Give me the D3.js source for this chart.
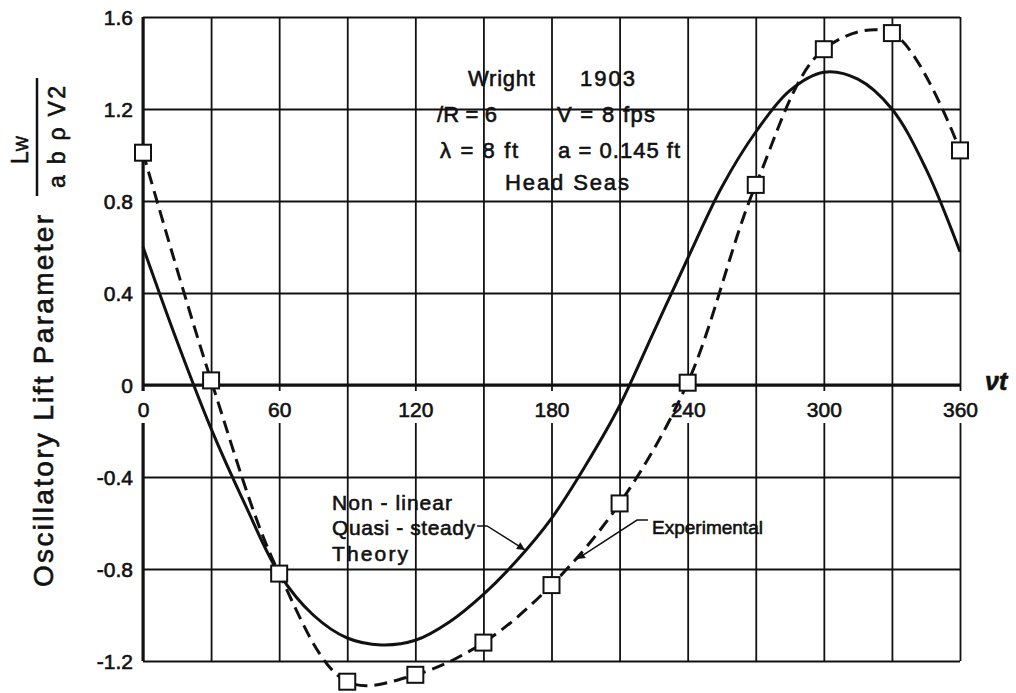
<!DOCTYPE html>
<html>
<head>
<meta charset="utf-8">
<script src="https://cdn.jsdelivr.net/npm/d3@7"></script>
<style>
  body { margin: 0; background: #fff; }
  svg { font-family: "Liberation Sans", Arial, sans-serif; }
  svg text { stroke: #111; stroke-width: 0.6px; }
</style>
</head>
<body>
<svg id="chart"></svg>
<script>
// Wright 1903 - oscillatory lift parameter vs phase angle
const xGridTicks = [0, 30, 60, 90, 120, 150, 180, 210, 240, 270, 300, 330, 360];
const xLabelTicks = [0, 60, 120, 180, 240, 300, 360];
const yTicks = [1.6, 1.2, 0.8, 0.4, 0, -0.4, -0.8, -1.2];

// experimental points (squares, dashed curve)
const expAngle = [0, 30, 60, 90, 120, 150, 180, 210, 240, 270, 300, 330, 360];
const expLift = [1.01, 0.02, -0.82, -1.29, -1.26, -1.12, -0.87, -0.515, 0.01, 0.87, 1.46, 1.53, 1.02];

// non-linear quasi-steady theory (solid curve)
const theoryAngle = [0, 15, 30, 45, 60, 75, 90, 105, 120, 135, 150, 165, 180, 195, 210, 225, 240, 255, 270, 285, 300, 315, 330, 345, 360];
const theoryLift = [0.60, 0.19, -0.19, -0.52, -0.82, -1.00, -1.10, -1.13, -1.11, -1.03, -0.91, -0.76, -0.58, -0.35, -0.09, 0.23, 0.55, 0.86, 1.10, 1.28, 1.36, 1.33, 1.20, 0.94, 0.58];

const W = 1016, H = 693;
const svg = d3.select("#chart").attr("width", W).attr("height", H);

const x = d3.scaleLinear().domain([0, 360]).range([143, 960]);
const y = d3.scaleLinear().domain([-1.2, 1.6]).range([661, 17]);

const ink = "#111";

// grid: horizontal lines with y labels
const yAxis = svg.append("g")
    .attr("transform", `translate(${x(0)},0)`)
    .call(d3.axisLeft(y)
        .tickValues(yTicks)
        .tickSize(-(x(360) - x(0)))
        .tickPadding(10)
        .tickFormat(d => d === 0 ? "0" : d.toFixed(1)));
yAxis.select(".domain").remove();
yAxis.selectAll("line").attr("stroke", ink).attr("stroke-width", 1.8);
yAxis.selectAll("text")
    .attr("fill", ink)
    .style("font-size", "21px")
    .attr("dy", "0.36em");

// grid: vertical lines
const xGrid = svg.append("g")
    .attr("transform", `translate(0,${y(-1.2)})`)
    .call(d3.axisBottom(x)
        .tickValues(xGridTicks)
        .tickSize(-(y(-1.2) - y(1.6)))
        .tickFormat(""));
xGrid.select(".domain").remove();
xGrid.selectAll("line").attr("stroke", ink).attr("stroke-width", 1.8);

// heavier zero line and left border
svg.append("line")
    .attr("x1", x(0)).attr("x2", x(360))
    .attr("y1", y(0)).attr("y2", y(0))
    .attr("stroke", ink).attr("stroke-width", 3);
svg.append("line")
    .attr("x1", x(0)).attr("x2", x(0))
    .attr("y1", y(1.6)).attr("y2", y(-1.2))
    .attr("stroke", ink).attr("stroke-width", 3);

// x labels sit on the zero line, grid broken behind them
const xLab = svg.append("g")
    .attr("transform", `translate(0,${y(0)})`)
    .call(d3.axisBottom(x)
        .tickValues(xLabelTicks)
        .tickSize(0)
        .tickPadding(17)
        .tickFormat(d3.format("d")));
xLab.select(".domain").remove();
xLab.selectAll("text").attr("fill", ink).style("font-size", "21px");
xLab.selectAll(".tick").each(function() {
    const t = d3.select(this);
    const bb = t.select("text").node().getBBox();
    t.insert("rect", "text")
        .attr("x", bb.x - 3).attr("y", 6)
        .attr("width", bb.width + 6).attr("height", 32)
        .attr("fill", "#fff");
});

svg.append("text")
    .attr("x", x(360) + 25).attr("y", y(0) + 5)
    .attr("fill", ink)
    .style("font-size", "25px")
    .style("font-weight", "bold")
    .style("font-style", "italic")
    .text("\u03bdt");

// curves
const line = d3.line()
    .x(d => x(d[0]))
    .y(d => y(d[1]))
    .curve(d3.curveCatmullRom.alpha(0.5));

svg.append("path")
    .datum(theoryAngle.map((a, i) => [a, theoryLift[i]]))
    .attr("d", line)
    .attr("fill", "none")
    .attr("stroke", ink)
    .attr("stroke-width", 3);

svg.append("path")
    .datum(expAngle.map((a, i) => [a, expLift[i]]))
    .attr("d", line)
    .attr("fill", "none")
    .attr("stroke", ink)
    .attr("stroke-width", 3)
    .attr("stroke-dasharray", "13,7");

svg.selectAll(".pt")
    .data(expAngle.map((a, i) => [a, expLift[i]]))
    .enter()
    .append("rect")
    .attr("class", "pt")
    .attr("x", d => x(d[0]) - 8)
    .attr("y", d => y(d[1]) - 8)
    .attr("width", 16)
    .attr("height", 16)
    .attr("fill", "#fff")
    .attr("stroke", ink)
    .attr("stroke-width", 2);

// y axis title, rotated
svg.append("text")
    .attr("transform", "translate(53,401) rotate(-90)")
    .attr("text-anchor", "middle")
    .attr("fill", ink)
    .style("font-size", "28px")
    .attr("textLength", 372)
    .attr("lengthAdjust", "spacing")
    .text("Oscillatory  Lift  Parameter");

const num = svg.append("text")
    .attr("transform", "translate(28,150) rotate(-90)")
    .attr("text-anchor", "middle")
    .attr("fill", ink)
    .style("font-size", "23px");
num.append("tspan").text("L");
num.append("tspan").style("font-size", "16px").text("W");

svg.append("line")
    .attr("x1", 37).attr("x2", 37)
    .attr("y1", 78).attr("y2", 196)
    .attr("stroke", ink).attr("stroke-width", 2.5);

svg.append("text")
    .attr("transform", "translate(65,137) rotate(-90)")
    .attr("text-anchor", "middle")
    .attr("fill", ink)
    .style("font-size", "23px")
    .attr("textLength", 102)
    .attr("lengthAdjust", "spacing")
    .text("a b \u03c1 V2");

// annotation block
const note = [
    { t: "Wright", a: 143.2, v: 1.30, w: 67 },
    { t: "1903", a: 192.6, v: 1.30, w: 55 },
    { t: "/R = 6", a: 129.5, v: 1.143, w: 60 },
    { t: "V = 8 fps", a: 182.4, v: 1.143, w: 98 },
    { t: "\u03bb = 8 ft", a: 130.9, v: 0.987, w: 78 },
    { t: "a = 0.145 ft", a: 182.9, v: 0.987, w: 122 },
    { t: "Head  Seas", a: 159.5, v: 0.848, w: 124 }
];
svg.selectAll(".note")
    .data(note)
    .enter()
    .append("text")
    .attr("class", "note")
    .attr("x", d => x(d.a))
    .attr("y", d => y(d.v))
    .attr("fill", ink)
    .style("font-size", "22px")
    .attr("textLength", d => d.w)
    .attr("lengthAdjust", "spacing")
    .text(d => d.t);

// curve labels
const theoryLab = svg.append("text")
    .attr("x", x(83.3))
    .attr("y", y(-0.543))
    .attr("fill", ink)
    .style("font-size", "21px");
[["Non - linear", 120], ["Quasi - steady", 143], ["Theory", 76]].forEach((s, i) => {
    theoryLab.append("tspan")
        .attr("x", x(83.3))
        .attr("dy", i === 0 ? 0 : 25.5)
        .attr("textLength", s[1])
        .attr("lengthAdjust", "spacing")
        .text(s[0]);
});

svg.append("text")
    .attr("x", x(224.3))
    .attr("y", y(-0.648))
    .attr("fill", ink)
    .style("font-size", "19px")
    .text("Experimental");

svg.append("defs").append("marker")
    .attr("id", "arrow")
    .attr("viewBox", "0 0 10 10")
    .attr("refX", 10).attr("refY", 5)
    .attr("markerWidth", 10).attr("markerHeight", 8)
    .attr("markerUnits", "userSpaceOnUse")
    .attr("orient", "auto")
    .append("path")
    .attr("d", "M0,0L10,5L0,10Z")
    .attr("fill", ink);

const leader = d3.line().x(d => x(d[0])).y(d => y(d[1]));
[
    [[147.2, -0.613], [151.6, -0.613], [168.3, -0.717]],
    [[222.5, -0.587], [217.7, -0.587], [191.2, -0.757]]
].forEach(pts => {
    svg.append("path")
        .attr("d", leader(pts))
        .attr("fill", "none")
        .attr("stroke", ink)
        .attr("stroke-width", 1.5)
        .attr("marker-end", "url(#arrow)");
});
</script>
</body>
</html>
